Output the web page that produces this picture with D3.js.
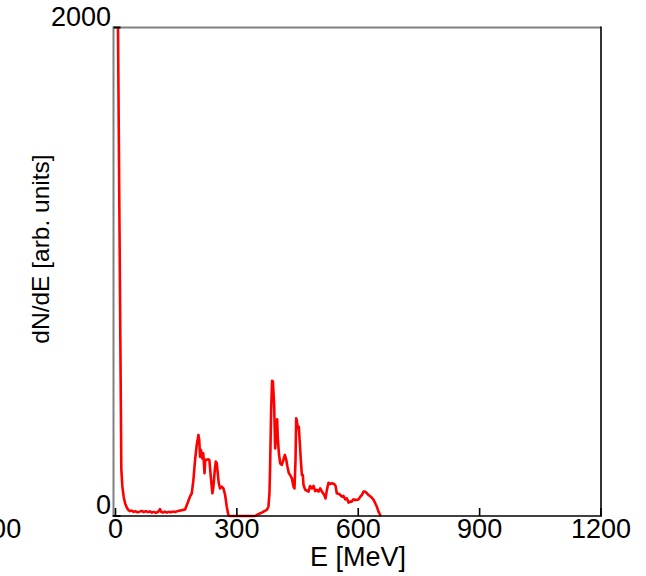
<!DOCTYPE html>
<html>
<head>
<meta charset="utf-8">
<script src="https://cdn.jsdelivr.net/npm/d3@7"></script>
<style>
  html, body { margin: 0; padding: 0; background: #fff; }
  svg { display: block; font-family: "Liberation Sans", Arial, sans-serif; }
</style>
</head>
<body>
<svg id="chart" width="646" height="576"></svg>
<script>
// Energy spectrum: E in MeV, dN/dE in arbitrary units
const energy = [
  4.5, 6.2, 8, 10, 12, 14.4, 17, 20.3, 24, 28.5, 32, 36, 40, 45, 50, 55, 60, 65, 70, 75,
  80, 85, 90, 95, 100, 105, 110, 113, 117, 122, 127, 132, 137, 142, 147, 152, 156, 160,
  166, 172, 178, 184, 188.5, 192.6, 196.7, 200.8, 205, 207, 209, 211.5, 214, 217, 220,
  222, 225.6, 229.6, 232, 235.5, 239.5, 242, 245.4, 248, 250.3, 252.8, 255.3, 258.5,
  262.7, 266.7, 271, 275, 279, 283, 300, 320, 345, 349, 355, 361.7, 368, 374, 378,
  380.5, 382, 384.7, 387, 389, 392, 394.6, 397, 399.6, 401, 403.8, 407, 411, 415,
  418.6, 422, 425, 428.5, 431.7, 436, 440, 442.4, 445, 446.6, 448, 450.8, 453, 455.6,
  458, 460.7, 463, 464.7, 469, 473, 477, 481, 485.6, 489.5, 493.5, 497.7, 501.7, 506,
  510, 516, 519, 522.5, 526.5, 531, 535, 540.6, 544, 547, 553.7, 559.6, 563.6, 567.8,
  572, 576, 580, 584, 588, 592.5, 596.7, 600.7, 605, 609, 613, 617, 621.5, 625.5, 631,
  638, 642, 646, 650, 654.5, 656
];
const counts = [
  2380, 2000, 1600, 1160, 720, 190, 120, 78, 50, 33, 24, 20, 22, 17, 19, 15, 18, 21, 16, 20,
  16, 19, 14, 17, 13, 16, 28, 17, 14, 18, 14, 17, 15, 18, 16, 19, 21, 22,
  25, 27, 52, 79, 93, 148, 230, 291, 332, 311, 243, 270, 236, 257, 175,
  230, 230, 232, 230, 161, 93, 120, 188, 223, 216, 175, 134, 113,
  120, 113, 86, 38, 4, 0, 0, 0, 0, 4, 9, 14, 20, 25, 38,
  93, 188, 434, 554, 550, 462, 277, 339, 396, 325, 257, 216, 209, 230,
  250, 230, 202, 175, 168, 154, 120, 113, 230, 400, 393, 359, 366, 298,
  230, 168, 168, 127, 107, 104, 100, 123, 113, 123, 102, 107, 100, 113,
  100, 86, 72, 107, 136, 131, 134, 131, 123, 93, 89, 79, 82, 68,
  72, 55, 59, 59, 68, 66, 66, 68, 79, 86, 100, 100, 93, 86, 79,
  66, 52, 38, 18, 3, 0
];

const xTicks = [-300, 0, 300, 600, 900, 1200];
const yTicks = [0, 2000];
const xTitle = "E [MeV]";
const yTitle = "dN/dE [arb. units]";

const svg = d3.select("#chart");
const plotLeft = 113.5, plotRight = 601, plotTop = 27.5, plotBottom = 516;

const x = d3.scaleLinear().domain([0, 1200]).range([115.5, 601]);
const y = d3.scaleLinear().domain([0, 2000]).range([516, 27.5]);

svg.append("defs").append("clipPath").attr("id", "plotClip")
  .append("rect").attr("x", plotLeft).attr("y", plotTop)
  .attr("width", plotRight - plotLeft).attr("height", plotBottom - plotTop + 2);

// spectrum curve
const pts = energy.map((e, i) => [e, counts[i]]);
svg.append("path")
  .datum(pts)
  .attr("clip-path", "url(#plotClip)")
  .attr("fill", "none")
  .attr("stroke", "#ff0000")
  .attr("stroke-width", 2.6)
  .attr("stroke-linejoin", "round")
  .attr("d", d3.line().x(d => x(d[0])).y(d => y(d[1])));

// frame: left and top in grey, right and bottom in black
svg.append("line").attr("x1", plotLeft).attr("x2", plotLeft).attr("y1", plotTop - 1).attr("y2", plotBottom)
  .attr("stroke", "#808080").attr("stroke-width", 2);
svg.append("line").attr("x1", plotLeft).attr("x2", plotRight).attr("y1", plotTop).attr("y2", plotTop)
  .attr("stroke", "#808080").attr("stroke-width", 2);
svg.append("line").attr("x1", plotRight).attr("x2", plotRight).attr("y1", plotTop - 1).attr("y2", plotBottom)
  .attr("stroke", "#000").attr("stroke-width", 1.6);
svg.append("line").attr("x1", plotLeft - 1).attr("x2", plotRight + 1).attr("y1", plotBottom).attr("y2", plotBottom)
  .attr("stroke", "#000").attr("stroke-width", 1.6);

// x ticks (inward) and labels
const xAxis = svg.append("g");
xAxis.selectAll("line").data(xTicks.filter(v => v >= 0)).join("line")
  .attr("x1", d => x(d)).attr("x2", d => x(d))
  .attr("y1", plotBottom).attr("y2", plotBottom - 8)
  .attr("stroke", "#000").attr("stroke-width", 1.6);
xAxis.selectAll("text").data(xTicks).join("text")
  .attr("x", d => x(d)).attr("y", 538)
  .attr("text-anchor", "middle")
  .attr("font-size", 27)
  .attr("fill", "#000")
  .text(d => d);

// y ticks (inward) and labels
const yAxis = svg.append("g");
yAxis.selectAll("line").data(yTicks).join("line")
  .attr("x1", plotLeft).attr("x2", plotLeft + 7)
  .attr("y1", d => y(d)).attr("y2", d => y(d))
  .attr("stroke", "#000").attr("stroke-width", 2);
yAxis.selectAll("text").data(yTicks).join("text")
  .attr("x", 111).attr("y", d => y(d) - 2)
  .attr("text-anchor", "end")
  .attr("font-size", 27)
  .attr("fill", "#000")
  .text(d => d);

// axis titles
svg.append("text")
  .attr("x", 358).attr("y", 566)
  .attr("text-anchor", "middle")
  .attr("font-size", 27)
  .attr("fill", "#000")
  .text(xTitle);
svg.append("text")
  .attr("transform", "translate(49,249) rotate(-90)")
  .attr("text-anchor", "middle")
  .attr("font-size", 24.5)
  .attr("fill", "#000")
  .text(yTitle);
</script>
</body>
</html>
